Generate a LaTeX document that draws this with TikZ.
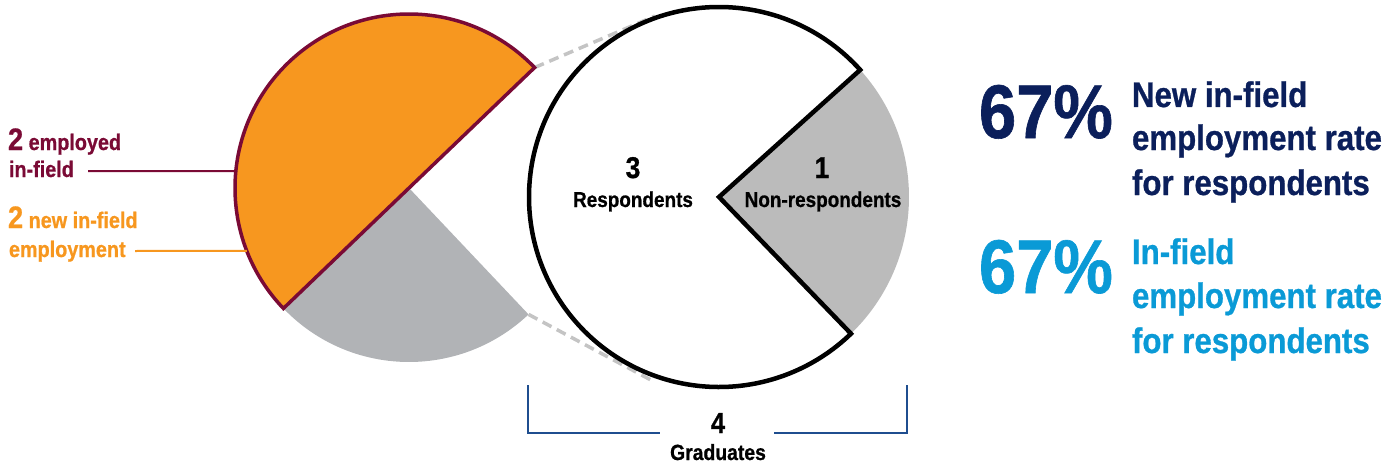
\documentclass[tikz,border=0pt]{standalone}
\usepackage{fontspec}
\newfontfamily\cf[FakeStretch=0.88,FakeBold=0.8]{Liberation Sans Bold}
\usetikzlibrary{calc}
\definecolor{maroon}{HTML}{7A0A35}
\definecolor{pieorange}{HTML}{F7971F}
\definecolor{greyL}{HTML}{B1B3B6}
\definecolor{greyR}{HTML}{BBBBBB}
\definecolor{dashgrey}{HTML}{C4C4C4}
\definecolor{navy}{HTML}{0B1F5B}
\definecolor{lightblue}{HTML}{0A9AD6}
\definecolor{bracketblue}{HTML}{1F4E8F}
\tikzset{
  txt/.style={inner sep=0pt, outer sep=0pt, font=\cf},
  bigpct/.style={txt, anchor=base west, font=\cf\fontsize{76}{76}\selectfont},
  ratetxt/.style={txt, anchor=base west, font=\cf\fontsize{35.5}{35.5}\selectfont},
  pienum/.style={txt, anchor=base, font=\cf\fontsize{30}{30}\selectfont},
  pielab/.style={txt, anchor=base, font=\cf\fontsize{21.5}{21.5}\selectfont},
  sidelab/.style={txt, anchor=base west, font=\cf\fontsize{22.5}{22.5}\selectfont},
  leader/.style={line width=2pt},
  guide/.style={dashgrey, line width=3.5pt, dash pattern=on 10pt off 6pt},
  bracketline/.style={bracketblue, line width=2pt},
}
\begin{document}
\begin{tikzpicture}[x=1pt,y=1pt]
\useasboundingbox (0,0) rectangle (1398,467);
% centres
\coordinate (cL) at (409,279);
\coordinate (cR) at (719,270);
% guide end points
\coordinate (tipA) at ($(cL)+(43.8:174)$);
\coordinate (tipB) at ($(cL)+(313.4:174)$);
\coordinate (rA) at ($(cR)+(109.5:192)$);
\coordinate (rB) at ($(cR)+(251:196)$);
\draw[guide] (tipA) -- (rA);
\draw[guide] (tipB) -- (rB);
% left pie
\fill[greyL] (cL) -- ++(223.8:174) arc (223.8:313.4:174) -- cycle;
\filldraw[fill=pieorange, draw=maroon, line width=3.5pt] (tipA) arc (43.8:223.8:174) -- cycle;
% right pie
\fill[greyR] (cR) -- ++(-46:190) arc (-46:42:190) -- cycle;
\filldraw[fill=white, draw=black, line width=4.5pt] (cR) -- ++(42:190) arc (42:314:190) -- cycle;
% pie labels
\node[pienum] (n3) at (633,289) {3};
\node[pielab] (resp) at (633,260) {Respondents};
\node[pienum] (n1) at (822,289) {1};
\node[pielab] (nonresp) at (823,260) {Non-respondents};
% bracket
\node[pienum, font=\cf\fontsize{29}{29}\selectfont] (n4) at (718,34) {4};
\node[pielab, font=\cf\fontsize{22}{22}\selectfont] (grad) at (718,7) {Graduates};
\coordinate (bl1) at (528,82);
\coordinate (bl2) at (660,34);
\coordinate (br1) at (907,82);
\coordinate (br2) at (774,34);
\draw[bracketline] (bl1) |- (bl2);
\draw[bracketline] (br1) |- (br2);
% left labels
\node[sidelab, text=maroon] (emp1) at (8,317) {{\fontsize{31}{31}\selectfont 2} employed};
\node[sidelab, text=maroon] (emp2) at (9,290) {in-field};
\node[sidelab, text=pieorange] (new1) at (8,239) {{\fontsize{31}{31}\selectfont 2} new in-field};
\node[sidelab, text=pieorange] (new2) at (9,210) {employment};
\coordinate (m1) at (88,296);
\coordinate (m2) at ($(cL)+(174.4:174)$);
\coordinate (o1) at (135,216);
\coordinate (o2) at ($(cL)+(201.2:174)$);
\draw[leader, maroon] (m1) -- (m2);
\draw[leader, pieorange] (o1) -- (o2);
% right texts
\node[bigpct, text=navy] (p1) at (979,329) {67\%};
\node[ratetxt, text=navy] (r1a) at (1132,360) {New in-field};
\node[ratetxt, text=navy] (r1b) at (1132,317) {employment rate};
\node[ratetxt, text=navy] (r1c) at (1132,272) {for respondents};
\node[bigpct, text=lightblue] (p2) at (979,174) {67\%};
\node[ratetxt, text=lightblue] (r2a) at (1132,203) {In-field};
\node[ratetxt, text=lightblue] (r2b) at (1132,159) {employment rate};
\node[ratetxt, text=lightblue] (r2c) at (1132,114) {for respondents};
\end{tikzpicture}
\end{document}
